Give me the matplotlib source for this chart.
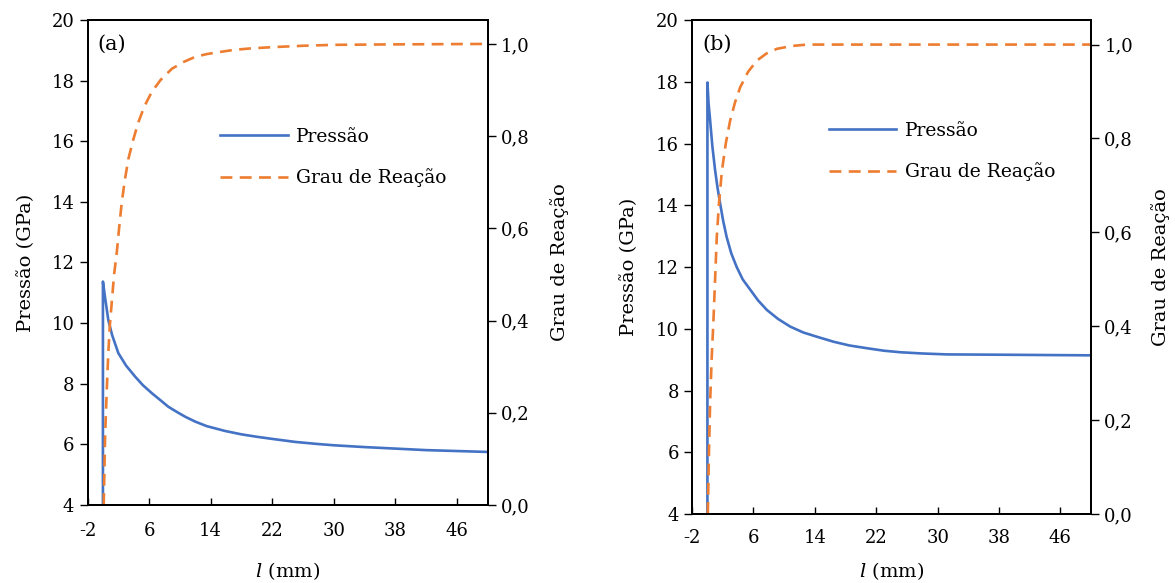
import numpy as np
import matplotlib; matplotlib.use("Agg")
import matplotlib.pyplot as plt
from matplotlib.ticker import FuncFormatter

plt.rcParams.update({"font.family": "DejaVu Serif", "mathtext.fontset": "dejavuserif",
                     "font.size": 13, "axes.unicode_minus": False})
BLUE = "#4472C4"; ORANGE = "#ED7D31"

# ── painel (a) ──
la_p = [0, 0, 0.3, 0.7, 1.2, 2.0, 3.0, 4.2, 5.2, 6.35, 7.5, 8.5, 9.6, 10.7, 12, 13.5,
        15.9, 18, 20, 22, 25, 28, 30, 34, 38, 42, 46, 50]
pa = [4, 11.37, 10.8, 10.1, 9.6, 9.01, 8.6, 8.23, 7.95, 7.69, 7.45, 7.24, 7.07, 6.91,
      6.75, 6.6, 6.44, 6.33, 6.25, 6.18, 6.08, 6.01, 5.97, 5.91, 5.86, 5.81, 5.78, 5.75]
la_g = [0.1, 0.28, 0.5, 0.7, 0.9, 1.15, 1.45, 1.8, 2.1, 2.45, 2.85, 3.3, 3.9, 4.6, 5.4,
        6.35, 7.5, 8.95, 10.5, 12, 13.5, 15, 17, 19, 22, 26, 30, 38, 50]
ga = [0, 0.148, 0.25, 0.33, 0.39, 0.44, 0.5, 0.548, 0.6, 0.657, 0.705, 0.75, 0.79, 0.83,
      0.865, 0.896, 0.922, 0.946, 0.961, 0.972, 0.978, 0.982, 0.987, 0.99, 0.993, 0.996,
      0.998, 0.999, 1.0]

# ── painel (b) ──
lb_p = [0, 0, 0.15, 0.35, 0.65, 1.0, 1.3, 1.65, 2.05, 2.5, 3.1, 3.8, 4.6, 5.6, 6.6, 7.75,
        9.2, 10.8, 12.5, 14.3, 16.45, 18.5, 20.8, 23, 25.15, 28, 31.25, 38.2, 44, 50]
pb = [4, 17.98, 17.3, 16.76, 15.9, 15.14, 14.6, 14.07, 13.5, 12.98, 12.45, 12.01, 11.6,
      11.26, 10.92, 10.61, 10.32, 10.07, 9.88, 9.74, 9.58, 9.46, 9.37, 9.29, 9.24, 9.2,
      9.17, 9.16, 9.15, 9.14]
lb_g = [0.05, 0.2, 0.35, 0.55, 0.78, 1.0, 1.22, 1.5, 1.88, 2.4, 2.96, 3.6, 4.27, 5.3, 6.45,
        7.7, 9.06, 11, 13, 50]
gb = [0, 0.13, 0.236, 0.33, 0.41, 0.5, 0.59, 0.66, 0.73, 0.79, 0.838, 0.877, 0.909, 0.942,
      0.966, 0.981, 0.991, 0.997, 1.0, 1.0]

xticks = [-2, 6, 14, 22, 30, 38, 46]
yticks = [4, 6, 8, 10, 12, 14, 16, 18, 20]
gticks = [0.0, 0.2, 0.4, 0.6, 0.8, 1.0]

fig = plt.figure(figsize=(11.75, 5.83), dpi=100)
panels = [
    # rect, dados, rótulo, posição da legenda, pads (tick x, xlabel, ylabel, ylabel dir.)
    ([0.0745, 0.1338, 0.3406, 0.832], la_p, pa, la_g, ga, "(a)", (0.331, 0.778), (12, 15, 12, 15)),
    ([0.589, 0.1184, 0.3396, 0.847], lb_p, pb, lb_g, gb, "(b)", (0.343, 0.794), (11, 9, 13, 13)),
]
for rect, lp, p, lg, g, tag, lpos, pads in panels:
    ax = fig.add_axes(rect)
    ax2 = ax.twinx()
    h1, = ax.plot(lp, p, color=BLUE, lw=1.9, label="Pressão")
    h2, = ax2.plot(lg, g, color=ORANGE, lw=1.9, ls=(0, (4.5, 2.8)), label="Grau de Reação")
    ax.set_xlim(-2, 50); ax.set_ylim(4, 20)
    ax2.set_ylim(0, 1.052)
    ax.set_xticks(xticks); ax.set_yticks(yticks); ax2.set_yticks(gticks)
    ax2.yaxis.set_major_formatter(FuncFormatter(lambda v, _: f"{v:.1f}".replace(".", ",")))
    ax.tick_params(axis="x", direction="in", length=5, width=1, pad=pads[0])
    ax.tick_params(axis="y", direction="out", length=6, width=1)
    ax2.tick_params(axis="y", direction="out", length=6, width=1)
    for a in (ax, ax2):
        for sp in a.spines.values():
            sp.set_linewidth(1.4); sp.set_color("black")
    ax.set_xlabel(r"$l$ (mm)", fontsize=14, labelpad=pads[1])
    ax.set_ylabel("Pressão (GPa)", fontsize=14, labelpad=pads[2])
    ax2.set_ylabel("Grau de Reação", fontsize=14, labelpad=pads[3])
    ax.text(0.025, 0.97, tag, transform=ax.transAxes, fontsize=15, va="top", ha="left")
    ax2.legend([h1, h2], ["Pressão", "Grau de Reação"], loc="upper left", bbox_to_anchor=lpos,
               frameon=False, borderpad=0, borderaxespad=0, handlelength=3.6,
               handletextpad=0.45, labelspacing=1.2, fontsize=13.5)

fig.savefig("out.png", dpi=100, facecolor="white")
